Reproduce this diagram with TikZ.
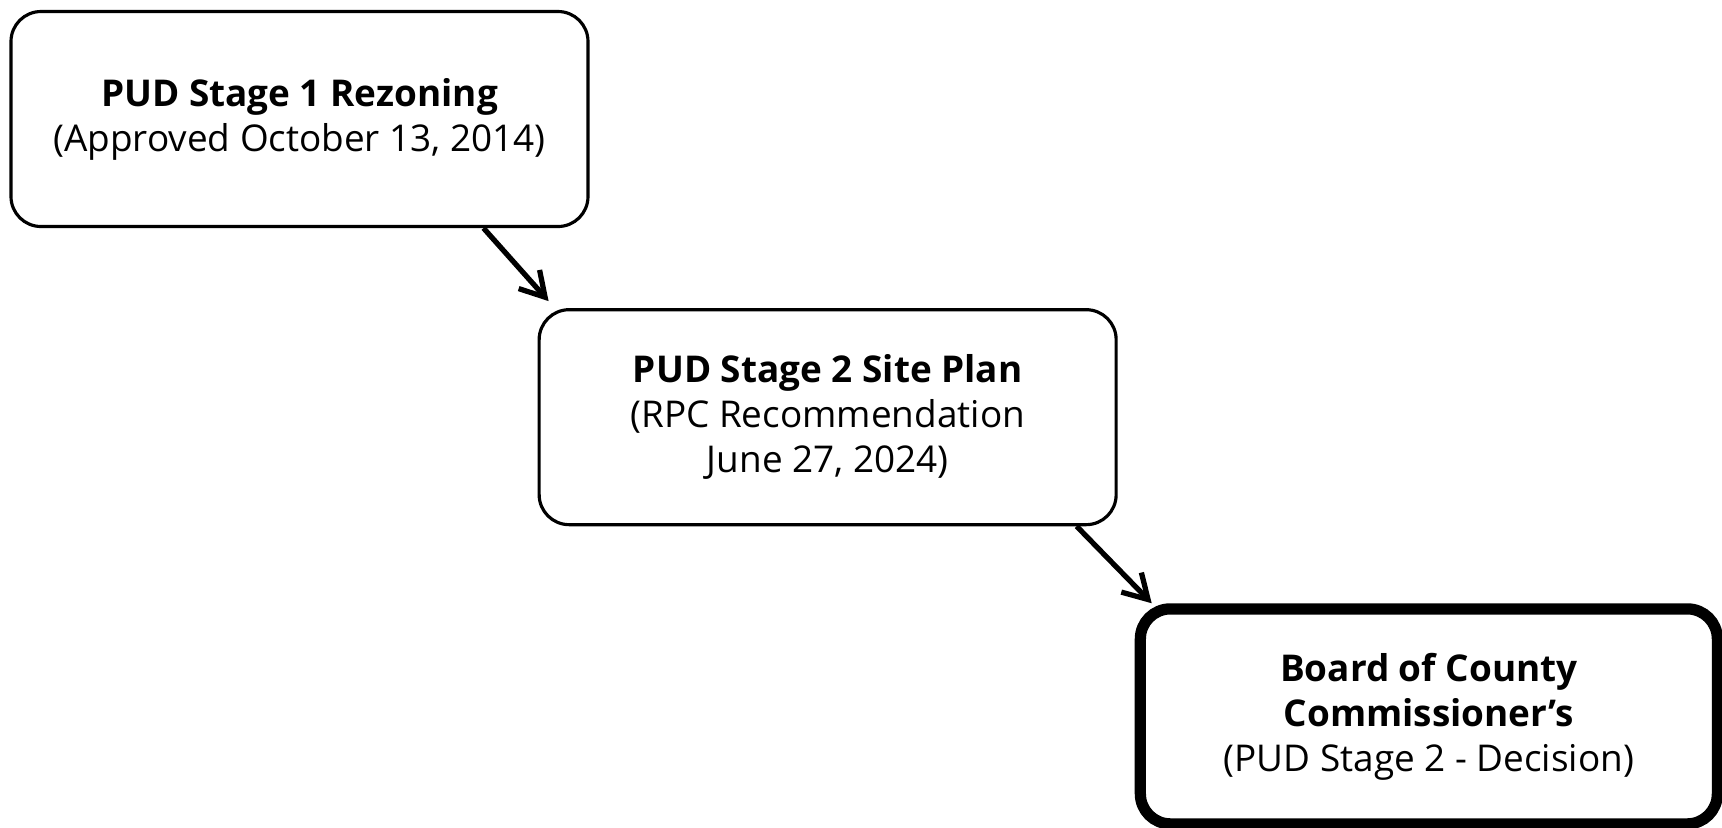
\documentclass[tikz,border=0pt]{standalone}
\usepackage{fontspec}
\setmainfont{Open Sans}
\usepackage{tikz}
\tikzset{
  box/.style={draw, rounded corners=3mm, line width=0.9pt,
              minimum width=5.77cm, minimum height=2.15cm,
              align=center, inner sep=2pt,
              font=\fontsize{10.5}{12.8}\selectfont},
  finalbox/.style={box, line width=3.2pt},
  arrow/.style={-{Straight Barb[length=2.4mm, width=2.8mm]}, line width=1.5pt}
}
\usetikzlibrary{positioning, arrows.meta}

\begin{document}
\begin{tikzpicture}[
  node distance=0.8cm and -0.52cm
]
\useasboundingbox (0,0) rectangle (17.22,-8.27);

\node[box] (stage1) at (2.995,-1.19) {\textbf{PUD Stage 1 Rezoning}\\(Approved October 13, 2014)};
\node[box, below right=of stage1] (stage2) {\textbf{PUD Stage 2 Site Plan}\\(RPC Recommendation\\June 27, 2024)};
\node[finalbox, below right=0.77cm and 0.17cm of stage2] (bocc) {\textbf{Board of County}\\\textbf{Commissioner’s}\\(PUD Stage 2 - Decision)};

\draw[arrow] ([xshift=1.84cm]stage1.south) -- ([shift={(0.11cm,0.07cm)}]stage2.north west);
\draw[arrow] ([xshift=2.49cm]stage2.south) -- ([xshift=0.17cm]bocc.north west);
\end{tikzpicture}
\end{document}
